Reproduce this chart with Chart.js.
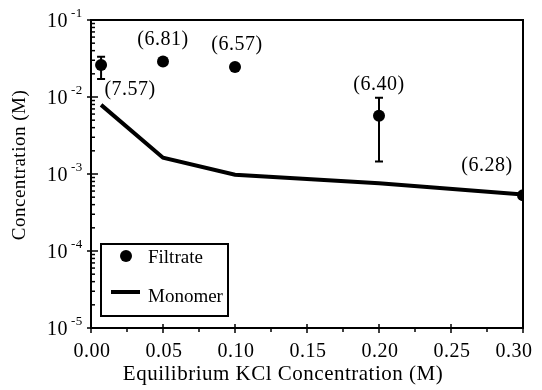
<!DOCTYPE html>
<html><head><meta charset="utf-8">
<script src="https://cdn.jsdelivr.net/npm/chart.js@4"></script>
<style>html,body{margin:0;padding:0;background:#fff}canvas{display:block}</style>
</head><body>
<canvas id="c" width="542" height="390"></canvas>
<script>
// ---- data ----
const kclConc = [0.007, 0.05, 0.10, 0.20, 0.30];
const filtrate = [0.026, 0.029, 0.0245, 0.0057, 0.00053];
const filtrateErrLow = [0.0171, null, null, 0.00145, null];
const filtrateErrHigh = [0.0334, null, null, 0.0098, null];
const phLabels = ['(7.57)', '(6.81)', '(6.57)', '(6.40)', '(6.28)'];
const monomer = [0.0079, 0.00163, 0.00098, 0.00076, 0.00054];
const xTickValues = [0, 0.05, 0.10, 0.15, 0.20, 0.25, 0.30];
const yTickExponents = [-1, -2, -3, -4, -5];
const xTitle = 'Equilibrium KCl Concentration (M)';
const yTitle = 'Concentration (M)';

// ---- style (positions/offsets) ----
const labelOffsets = [[29, 25], [0, -22], [2, -22], [0, -31], [-36, -29]];
const SERIF = '"Liberation Serif", "Times New Roman", serif';

const drawPlugin = {
  id: 'custom',
  beforeDraw(chart) {
    const ctx = chart.ctx;
    ctx.save();
    ctx.fillStyle = '#fff';
    ctx.fillRect(0, 0, chart.width, chart.height);
    ctx.restore();
  },
  afterDatasetsDraw(chart) {
    const ctx = chart.ctx;
    const xs = chart.scales.x, ys = chart.scales.y;
    const a = chart.chartArea;
    ctx.save();
    ctx.strokeStyle = '#000';
    ctx.fillStyle = '#000';
    // frame
    ctx.lineWidth = 2;
    ctx.strokeRect(a.left, a.top, a.right - a.left, a.bottom - a.top);

    // y ticks
    ctx.lineWidth = 1.5;
    for (let e = -5; e <= -1; e++) {
      const yp = ys.getPixelForValue(Math.pow(10, e));
      ctx.beginPath(); ctx.moveTo(a.left - 4, yp); ctx.lineTo(a.left + 7, yp); ctx.stroke();
      if (e < -1) {
        for (let m = 2; m <= 9; m++) {
          const ym = ys.getPixelForValue(m * Math.pow(10, e));
          ctx.beginPath(); ctx.moveTo(a.left, ym); ctx.lineTo(a.left + 4, ym); ctx.stroke();
        }
      }
    }
    ctx.letterSpacing = '0.5px';
    // y tick labels
    yTickExponents.forEach(e => {
      const yp = ys.getPixelForValue(Math.pow(10, e));
      ctx.font = '20px ' + SERIF;
      ctx.textAlign = 'right'; ctx.textBaseline = 'middle';
      ctx.fillText('10', 68, yp + 2);
      ctx.font = '13px ' + SERIF;
      ctx.textAlign = 'left';
      ctx.fillText('-' + Math.abs(e), 71, yp - 6);
    });

    // x ticks
    for (let i = 0; i <= 12; i++) {
      const v = i * 0.025;
      const xp = xs.getPixelForValue(v);
      ctx.beginPath();
      if (i % 2 === 0) { ctx.moveTo(xp, a.bottom - 4); ctx.lineTo(xp, a.bottom + 5); }
      else { ctx.moveTo(xp, a.bottom); ctx.lineTo(xp, a.bottom + 4); }
      ctx.stroke();
    }
    ctx.font = '20px ' + SERIF;
    ctx.textAlign = 'center'; ctx.textBaseline = 'middle';
    xTickValues.forEach((v, i) => {
      let xp = xs.getPixelForValue(v) + 1;
      if (i === xTickValues.length - 1) xp = Math.min(xp, chart.width - 28);
      ctx.fillText(v.toFixed(2), xp, 352);
    });

    // titles
    ctx.font = '21px ' + SERIF;
    ctx.fillText(xTitle, 283, 374);
    ctx.save();
    ctx.translate(20, 165);
    ctx.rotate(-Math.PI / 2);
    ctx.font = '19px ' + SERIF;
    ctx.fillText(yTitle, 0, 0);
    ctx.restore();

    // error bars
    ctx.lineWidth = 2;
    kclConc.forEach((x, i) => {
      if (filtrateErrLow[i] == null) return;
      const xp = xs.getPixelForValue(x);
      const y1 = ys.getPixelForValue(filtrateErrHigh[i]);
      const y2 = ys.getPixelForValue(filtrateErrLow[i]);
      ctx.beginPath();
      ctx.moveTo(xp, y1); ctx.lineTo(xp, y2);
      ctx.moveTo(xp - 4, y1); ctx.lineTo(xp + 4, y1);
      ctx.moveTo(xp - 4, y2); ctx.lineTo(xp + 4, y2);
      ctx.stroke();
    });

    // pH labels
    ctx.font = '20px ' + SERIF;
    ctx.textAlign = 'center'; ctx.textBaseline = 'middle';
    kclConc.forEach((x, i) => {
      const xp = xs.getPixelForValue(x), yp = ys.getPixelForValue(filtrate[i]);
      ctx.fillText(phLabels[i], xp + labelOffsets[i][0], yp + labelOffsets[i][1]);
    });

    // legend
    ctx.lineWidth = 2;
    ctx.fillStyle = '#fff';
    ctx.fillRect(101, 244, 127, 72);
    ctx.fillStyle = '#000';
    ctx.strokeRect(101, 244, 127, 72);
    ctx.beginPath(); ctx.arc(126, 256, 6, 0, Math.PI * 2); ctx.fill();
    ctx.lineWidth = 4;
    ctx.beginPath(); ctx.moveTo(111, 292); ctx.lineTo(140, 292); ctx.stroke();
    ctx.font = '19px ' + SERIF;
    ctx.letterSpacing = '0px';
    ctx.textAlign = 'left'; ctx.textBaseline = 'middle';
    ctx.fillText(chart.data.datasets[0].label, 148, 258);
    ctx.fillText(chart.data.datasets[1].label, 148, 297);
    ctx.restore();
  }
};

new Chart(document.getElementById('c'), {
  type: 'line',
  data: {
    datasets: [
      {
        label: 'Filtrate',
        data: kclConc.map((x, i) => ({ x, y: filtrate[i] })),
        showLine: false,
        pointRadius: 6,
        pointBackgroundColor: '#000',
        pointBorderColor: '#000',
        pointBorderWidth: 0,
        order: 0
      },
      {
        label: 'Monomer',
        data: kclConc.map((x, i) => ({ x, y: monomer[i] })),
        borderColor: '#000',
        borderWidth: 4,
        pointRadius: 0,
        tension: 0,
        fill: false,
        order: 1
      }
    ]
  },
  options: {
    responsive: false,
    animation: false,
    devicePixelRatio: 1,
    layout: { padding: { left: 91, top: 20, right: 19, bottom: 62 } },
    plugins: { legend: { display: false }, tooltip: { enabled: false } },
    scales: {
      x: { type: 'linear', min: 0, max: 0.30, display: false },
      y: { type: 'logarithmic', min: 1e-5, max: 1e-1, display: false }
    }
  },
  plugins: [drawPlugin]
});
</script>
</body></html>
